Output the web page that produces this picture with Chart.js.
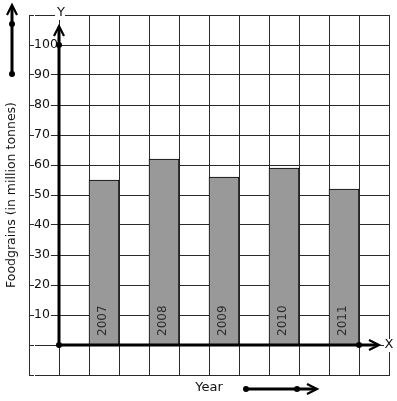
<!DOCTYPE html>
<html>
<head>
<meta charset="utf-8">
<script src="https://cdn.jsdelivr.net/npm/chart.js@4/dist/chart.umd.min.js"></script>
<style>
  html, body { margin: 0; padding: 0; background: #fff; }
  #wrap { width: 397px; height: 401px; position: relative; }
</style>
</head>
<body>
<div id="wrap"><canvas id="c"></canvas></div>
<script>
// ---- data ----
const years = ['2007', '2008', '2009', '2010', '2011'];
const production = [55, 62, 56, 59, 52];          // million tonnes
const yTickLabels = [10, 20, 30, 40, 50, 60, 70, 80, 90, 100];
const yAxisTitle = 'Foodgrains (in million tonnes)';
const xAxisTitle = 'Year';

// grid has 12 columns; years sit in every other column starting at column 2
const slotCount = 12;
const slotLabels = [];
const slotValues = [];
for (let i = 0; i < slotCount; i++) { slotLabels.push(''); slotValues.push(null); }
years.forEach((y, i) => { slotLabels[2 + 2 * i] = y; slotValues[2 + 2 * i] = production[i]; });

Chart.defaults.font.family = '"DejaVu Sans", Verdana, sans-serif';
Chart.defaults.color = '#000';

const GRID = '#2a2a2a';

function dot(ctx, x, y, r) { ctx.beginPath(); ctx.arc(x, y, r, 0, Math.PI * 2); ctx.fill(); }

const decor = {
  id: 'decor',
  afterDatasetsDraw(chart) {
    const ctx = chart.ctx;
    const xs = chart.scales.x, ys = chart.scales.y;
    const meta = chart.getDatasetMeta(0);
    // year labels inside bars
    ctx.save();
    ctx.fillStyle = '#2b2b2b';
    ctx.font = '12px "DejaVu Sans"';
    ctx.textAlign = 'left';
    ctx.textBaseline = 'middle';
    meta.data.forEach((bar, i) => {
      const lab = slotLabels[i];
      if (!lab || slotValues[i] == null) return;
      ctx.save();
      ctx.translate(bar.x - 1.5, ys.getPixelForValue(3));
      ctx.rotate(-Math.PI / 2);
      ctx.fillText(lab, 0, 0);
      ctx.restore();
    });
    ctx.restore();

    // axes
    const ox = (xs.getPixelForValue(0) + xs.getPixelForValue(1)) / 2;
    const oy = ys.getPixelForValue(0);
    const yTop = ys.getPixelForValue(106.3);
    const xEnd = xs.getPixelForValue(11) + 5;
    ctx.save();
    ctx.strokeStyle = '#000';
    ctx.fillStyle = '#000';
    ctx.lineWidth = 3;
    ctx.lineCap = 'butt';
    ctx.beginPath();
    ctx.moveTo(ox, oy); ctx.lineTo(ox, yTop + 1);
    ctx.moveTo(ox, oy); ctx.lineTo(xEnd - 1, oy);
    ctx.stroke();
    ctx.lineWidth = 2.2;
    ctx.beginPath();
    ctx.moveTo(ox - 5, yTop + 10); ctx.lineTo(ox, yTop); ctx.lineTo(ox + 5, yTop + 10);
    ctx.moveTo(xEnd - 10, oy - 5); ctx.lineTo(xEnd, oy); ctx.lineTo(xEnd - 10, oy + 5);
    ctx.stroke();
    dot(ctx, ox, oy, 3);
    dot(ctx, ox, ys.getPixelForValue(100), 3);
    dot(ctx, (xs.getPixelForValue(10) + xs.getPixelForValue(11)) / 2, oy, 3);

    // top-left legend arrow
    ctx.lineWidth = 3;
    ctx.beginPath(); ctx.moveTo(12, 74); ctx.lineTo(12, 6); ctx.stroke();
    ctx.lineWidth = 2.2;
    ctx.beginPath(); ctx.moveTo(7, 15); ctx.lineTo(12, 5); ctx.lineTo(17, 15); ctx.stroke();
    dot(ctx, 12, 24, 3); dot(ctx, 12, 74, 3);

    // year arrow
    ctx.lineWidth = 3;
    ctx.beginPath(); ctx.moveTo(246, 389); ctx.lineTo(316, 389); ctx.stroke();
    ctx.lineWidth = 2.2;
    ctx.beginPath(); ctx.moveTo(307, 384); ctx.lineTo(317, 389); ctx.lineTo(307, 394); ctx.stroke();
    dot(ctx, 246, 389, 3); dot(ctx, 297, 389, 3);

    // axis letters with white backing
    ctx.font = '13px "DejaVu Sans"';
    ctx.textAlign = 'center';
    ctx.textBaseline = 'middle';
    ctx.fillStyle = '#fff';
    ctx.fillRect(ox - 4, 5, 10, 15);
    ctx.fillRect(384, oy - 6, 10, 13);
    ctx.fillStyle = '#111';
    ctx.fillText('Y', ox + 2, 12.5);
    ctx.fillText('X', 389, oy);
    ctx.restore();
  }
};

new Chart(document.getElementById('c'), {
  type: 'bar',
  data: {
    labels: slotLabels,
    datasets: [{
      data: slotValues,
      backgroundColor: '#999999',
      borderColor: '#000',
      borderWidth: 1,
      barPercentage: 1,
      categoryPercentage: 1
    }]
  },
  options: {
    responsive: true,
    maintainAspectRatio: false,
    animation: false,
    layout: { padding: { top: 15, right: 8, left: 0, bottom: 0 } },
    plugins: { legend: { display: false }, tooltip: { enabled: false } },
    scales: {
      x: {
        type: 'category',
        offset: true,
        grid: { offset: true, color: GRID, lineWidth: 1, drawTicks: false },
        border: { display: true, color: GRID },
        ticks: { display: false },
        title: { display: true, text: xAxisTitle, font: { size: 13 }, color: '#111', padding: { top: 0, bottom: 6 } },
        afterFit: s => { s.height = 26; }
      },
      y: {
        type: 'linear',
        min: -10,
        max: 110,
        grid: { color: GRID, lineWidth: 1, drawTicks: false },
        border: { display: true, color: GRID },
        ticks: {
          stepSize: 10,
          mirror: true,
          padding: 5,
          font: { size: 12.5 },
          color: '#111',
          showLabelBackdrop: true,
          backdropColor: '#fff',
          backdropPadding: { left: 0, right: 1, top: 0, bottom: 0 },
          callback: v => yTickLabels.includes(v) ? String(v) : ''
        },
        title: { display: true, text: yAxisTitle, font: { size: 12.5 }, color: '#111', padding: { top: 4, bottom: 0 } },
        afterFit: s => { s.width = 29; }
      }
    }
  },
  plugins: [decor]
});
</script>
</body>
</html>
